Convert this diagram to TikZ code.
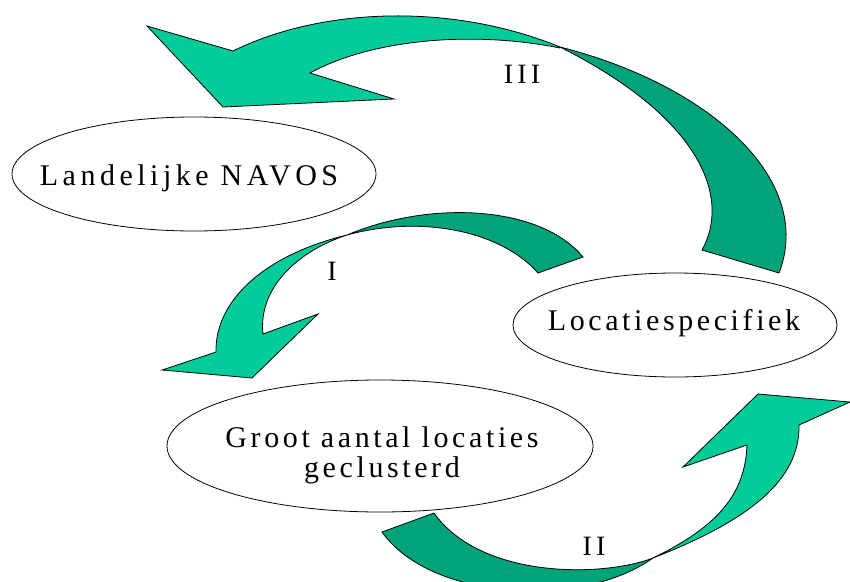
\documentclass[tikz,border=0pt]{standalone}
\usepackage{fontspec}
\usetikzlibrary{shapes.geometric}
\newfontfamily\spacedA[LetterSpace=12]{Liberation Serif}
\newfontfamily\spacedB[LetterSpace=15]{Liberation Serif}
\definecolor{lightg}{HTML}{00CC99}
\definecolor{darkg}{HTML}{00A37A}
\tikzset{
  ell/.style={draw=black, fill=white, ellipse, line width=0.8pt, inner sep=0pt},
  txt/.style={anchor=base, align=center, font=\spacedA\fontsize{30}{30}\selectfont, inner sep=0pt},
  lbl/.style={anchor=base, font=\spacedB\fontsize{28}{30}\selectfont, inner sep=0pt},
  front/.style={fill=lightg, draw=black, line width=0.8pt, line join=miter},
  back/.style={fill=darkg, draw=black, line width=0.8pt, line join=miter},
}
\begin{document}
\begin{tikzpicture}[x=1pt, y=-1pt]
\useasboundingbox (0,0) rectangle (850,581);

% Arrow III (back, dark)
\filldraw[back] (560,47) .. controls (710,85) and (815,180) .. (779,273)
  -- (702,250) .. controls (730,200) and (705,120) .. (560,47) -- cycle;
% Arrow III (front, light)
\filldraw[front] (560,47) .. controls (450,2) and (320,8) .. (233,51)
  -- (147,26) -- (223,107) -- (394,99) -- (310,73)
  .. controls (370,40) and (470,30) .. (560,48) -- cycle;

% Arrow I (back, dark)
\filldraw[back] (347,235) .. controls (430,200) and (540,205) .. (583,257)
  -- (538,273) .. controls (500,230) and (420,215) .. (347,235) -- cycle;
% Arrow I (front, light)
\filldraw[front] (347,235) .. controls (265,255) and (215,300) .. (216,352)
  -- (162,370) -- (252,378) -- (318,314) -- (263,334)
  .. controls (258,290) and (295,252) .. (347,235) -- cycle;

% Arrow II (back, dark)
\filldraw[back] (653,558) .. controls (600,578) and (480,578) .. (434,513)
  -- (382,532) .. controls (430,600) and (580,610) .. (653,558) -- cycle;
% Arrow II (front, light)
\filldraw[front] (653,558) .. controls (750,520) and (800,480) .. (799,425)
  -- (850,402) -- (758,394) -- (683,467) -- (747,445)
  .. controls (745,500) and (710,530) .. (653,558) -- cycle;

% Ellipses
\node[ell, minimum width=364pt, minimum height=114pt] (lan) at (194,174) {};
\node[ell, minimum width=324pt, minimum height=104pt] (loc) at (675,325) {};
\node[ell, minimum width=426pt, minimum height=132pt] (gro) at (380,446) {};

% Texts
\node[txt, font=\spacedB\fontsize{30}{30}\selectfont] (lant) at (189,185) {Landelijke NAVOS};
\node[txt] (loct) at (674,330) {Locatiespecifiek};
\node[txt] (grot) at (382,477) {Groot aantal locaties\\geclusterd};

% Labels
\node[lbl] (l3) at (522,83) {III};
\node[lbl] (l1) at (332,280) {I};
\node[lbl] (l2) at (594,555) {II};
\end{tikzpicture}
\end{document}
